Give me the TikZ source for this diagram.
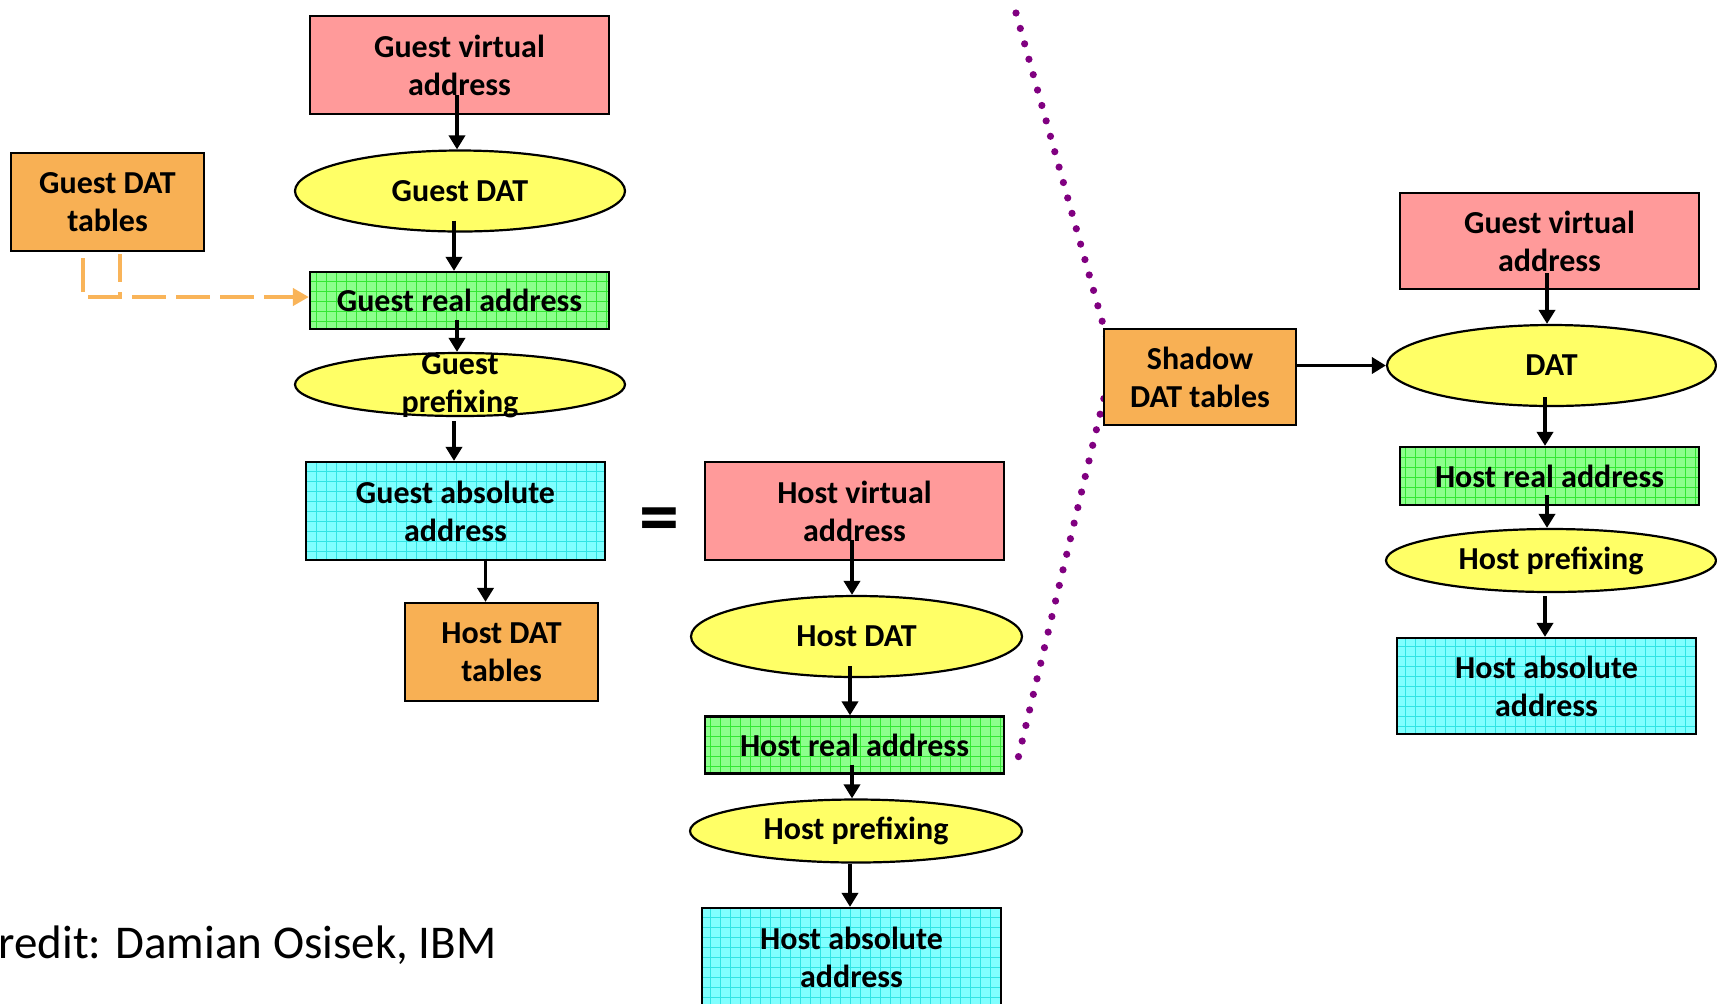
\documentclass[tikz,border=0pt]{standalone}
\usepackage{fontspec}
\setmainfont{Carlito}
\usetikzlibrary{shapes.geometric,arrows.meta}

\definecolor{pinkc}{HTML}{FF9A9A}
\definecolor{yellowc}{HTML}{FFFF66}
\definecolor{orangec}{HTML}{F8B054}
\definecolor{greenc}{HTML}{8CFF8C}
\definecolor{greenln}{HTML}{33E833}
\definecolor{cyanc}{HTML}{80FFFF}
\definecolor{cyanln}{HTML}{30E4E4}
\definecolor{dotc}{HTML}{800080}
\definecolor{dashc}{HTML}{F9B459}

\newcommand\lblfont{\fontsize{16}{19}\selectfont\bfseries}

\tikzset{
  box/.style={draw=black, line width=1.1pt, inner sep=0pt, align=center, font=\lblfont},
  tallbox/.style={box, minimum width=149.5pt, minimum height=49pt},
  flatbox/.style={box, minimum width=149.5pt, minimum height=28.5pt},
  tablebox/.style={box, fill=orangec, minimum width=96.5pt, minimum height=49pt},
  virtbox/.style={tallbox, fill=pinkc},
  gridfill/.style={path picture={\draw[line width=0.45pt, #1]
      (path picture bounding box.south west) grid[step=5pt]
      (path picture bounding box.north east);}},
  realbox/.style={flatbox, fill=greenc, gridfill=greenln},
  absbox/.style={tallbox, fill=cyanc, gridfill=cyanln},
  oval/.style={ellipse, draw=black, line width=1.1pt, fill=yellowc, inner sep=0pt,
    minimum width=165pt, minimum height=40.5pt, font=\lblfont, align=center},
  flatoval/.style={oval, minimum height=31.5pt},
  arr/.style={line width=1.8pt, -{Triangle[length=7pt,width=8pt]}},
  tabledash/.style={draw=dashc, line width=2pt, dash pattern=on 17pt off 5pt},
  tablehead/.style={-{Triangle[length=8pt,width=8.5pt,fill=dashc]}},
  dotline/.style={draw=dotc, line width=3.6pt, line cap=round,
    dash pattern=on 0pt off 8pt}
}

\begin{document}
\begin{tikzpicture}[x=0.5pt, y=-0.5pt]
\useasboundingbox (0,0) rectangle (1717,1003);

% boundary between the two halves
\coordinate (dtop) at (1016,13);
\coordinate (dmid) at (1113,360);
\coordinate (dbot) at (1016,767);
\draw[dotline] (dtop) -- (dmid) -- (dbot);

% guest translation
\node[virtbox]  (gva)  at (459.5,65)   {Guest virtual\\address};
\node[oval]     (gdat) at (460,191)    {Guest DAT};
\node[tablebox] (gdt)  at (107.5,202)  {Guest DAT\\tables};
\node[realbox]  (gra)  at (459.5,300.5) {Guest real address};
\node[flatoval] (gpre) at (460,384.5)  {};
\node[font=\lblfont, align=center, inner sep=0pt] (gpretext) at (460,386) {Guest\\prefixing};
\node[absbox]   (gaa)  at (455.5,511)  {Guest absolute\\address};
\node[tablebox] (hdt)  at (501.5,652)  {Host DAT\\tables};

\node[font=\fontsize{40}{40}\selectfont\bfseries, inner sep=0pt] (eq) at (659,526) {=};

% host translation
\node[virtbox]  (hva)  at (854.5,511)  {Host virtual\\address};
\node[oval, minimum width=165.5pt] (hdat) at (856.5,636.5) {Host DAT};
\node[realbox]  (hra)  at (854.5,745)  {Host real address};
\node[flatoval, minimum width=166pt] (hpre) at (856,831) {Host prefixing};
\node[absbox]   (haa)  at (851.5,957)  {Host absolute\\address};

% shadow translation
\node[tablebox, minimum width=96pt, minimum height=48pt] (sdt) at (1200,377) {Shadow\\DAT tables};
\node[virtbox, minimum height=48pt] (rgva) at (1549.5,241) {Guest virtual\\address};
\node[oval, minimum width=164.5pt] (rdat) at (1551.5,365.5) {DAT};
\node[realbox, minimum height=29pt] (rhra) at (1549.5,476) {Host real address};
\node[flatoval] (rhpre) at (1551,560.5) {Host prefixing};
\node[absbox, minimum height=48pt] (rhaa) at (1546.5,686) {Host absolute\\address};

% connectors
\draw[arr] ([xshift=-1.25pt,yshift=10pt]gva.south) -- ([xshift=-1.25pt]gva.south |- gdat.north);
\draw[arr] ([xshift=-3pt,yshift=6pt]gdat.south) -- ([xshift=-3pt]gdat.south |- gra.north);
\draw[arr] ([xshift=-1.25pt,yshift=5pt]gra.south) -- ([xshift=-1.25pt]gra.south |- gpre.north);
\draw[arr] ([xshift=-0.75pt,yshift=-2pt]gaa.north |- gpre.south) -- ([xshift=-0.75pt]gaa.north);
\draw[arr] ([xshift=15pt]gaa.south) -- ([xshift=15pt]gaa.south |- hdt.north);

\draw[arr] ([xshift=-1.25pt,yshift=10.5pt]hva.south) -- ([xshift=-1.25pt]hva.south |- hdat.north);
\draw[arr] ([xshift=-3.25pt,yshift=6pt]hdat.south) -- ([xshift=-3.25pt]hdat.south |- hra.north);
\draw[arr] ([xshift=-1.25pt,yshift=5pt]hra.south) -- ([xshift=-1.25pt]hra.south |- hpre.north);
\draw[arr] ([xshift=-3pt]hpre.south) -- ([xshift=-3pt]hpre.south |- haa.north);

\draw[arr] ([xshift=-1.25pt,yshift=8.5pt]rgva.south) -- ([xshift=-1.25pt]rgva.south |- rdat.north);
\draw[arr] ([xshift=-3.25pt,yshift=5pt]rdat.south) -- ([xshift=-3.25pt]rdat.south |- rhra.north);
\draw[arr] ([xshift=-1.25pt,yshift=5.5pt]rhra.south) -- ([xshift=-1.25pt]rhra.south |- rhpre.north);
\draw[arr] ([xshift=-3pt,yshift=-1.5pt]rhpre.south) -- ([xshift=-3pt]rhpre.south |- rhaa.north);
\draw[arr] (sdt.east |- rdat.west) -- (rdat.west);

% guest tables feed the guest real address
\coordinate (tabjoin) at ([xshift=6.25pt,yshift=1.75pt]gdt.south |- gra.west);
\draw[tabledash, tablehead] ([xshift=-12.25pt,yshift=-3pt]gdt.south) |- ([yshift=1.75pt]gra.west);
\draw[tabledash, dash phase=3pt] ([xshift=6.25pt,yshift=-1pt]gdt.south) -- (tabjoin);

% credit line
\node[anchor=base west, inner sep=0pt, font=\fontsize{23.5}{28}\selectfont] (credit) at (-2,958) {redit: Damian Osisek, IBM};
\end{tikzpicture}
\end{document}
